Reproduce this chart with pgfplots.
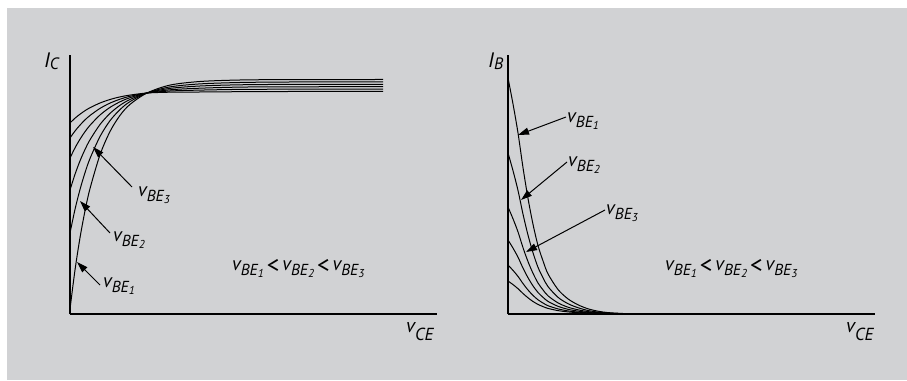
\documentclass[border=0pt]{standalone}
\usepackage{pgfplots}
\pgfplotsset{compat=1.18}
\usepackage{fontspec}
\setmainfont{PT Sans}
\usetikzlibrary{arrows.meta}
\definecolor{bg}{HTML}{D1D2D4}
\newcommand{\vs}[2]{{\fontsize{19.5}{20}\selectfont\itshape v}\raisebox{-5bp}{\fontsize{16}{16}\selectfont\itshape #1\raisebox{-2.5bp}{\fontsize{11.5}{12}\selectfont #2}}}
\newcommand{\vce}{{\fontsize{20}{20}\selectfont\itshape v}\raisebox{-8bp}{\fontsize{17.5}{18}\selectfont\itshape CE}}
\newcommand{\ib}[1]{{\fontsize{21}{20}\selectfont\itshape I}\raisebox{-2bp}{\fontsize{16.5}{16}\selectfont\itshape #1}}
\newcommand{\lt}{\hspace{3bp}\raisebox{-3bp}{\fontsize{25}{25}\selectfont <}\hspace{3bp}}
\newcommand{\rel}{\vs{BE}{1}\lt\vs{BE}{2}\lt\vs{BE}{3}}
\begin{document}
\begin{tikzpicture}[x=1bp,y=1bp]
\fill[white] (0,0) rectangle (907,380);
\fill[bg] (7,0) rectangle (907,372);
\pgfplotsset{myax/.style={scale only axis, width=367bp, height=259bp,
  xmin=0,xmax=367,ymin=0,ymax=259, axis lines=left,
  axis line style={-,line width=1.2bp,black}, ticks=none, clip=false},
  cv/.style={black,solid,line width=1bp,smooth,mark=none}}
\begin{axis}[myax, at={(70bp,66bp)}, anchor=origin]
\addplot[cv] coordinates {(0,5)(5,44.0)(10,76.3)(15,103.1)(20,125.4)(30,159.2)(40,182.5)(50,198.6)(60,209.6)(77,221)(100,228.9)(130,232.5)(170,234.0)(220,234.4)(313,234.5)};
\addplot[cv] coordinates {(0,81)(5,104.6)(10,124.5)(15,141.3)(20,155.5)(30,177.5)(40,193.3)(50,204.4)(60,212.4)(77,221)(100,227.1)(130,230.1)(170,231.5)(220,232.0)(313,232.1)};
\addplot[cv] coordinates {(0,124)(5,139.7)(10,153.1)(15,164.5)(20,174.2)(30,189.5)(40,200.6)(50,208.7)(60,214.5)(77,221)(100,225.6)(130,228.0)(170,229.2)(220,229.6)(313,229.7)};
\addplot[cv] coordinates {(0,156)(5,166.1)(10,174.8)(15,182.3)(20,188.7)(30,199.0)(40,206.6)(50,212.2)(60,216.3)(77,221)(100,224.2)(130,225.8)(170,226.9)(220,227.2)(313,227.3)};
\addplot[cv] coordinates {(0,176)(5,183.0)(10,188.9)(15,194.1)(20,198.5)(30,205.6)(40,210.9)(50,214.8)(60,217.7)(77,221)(100,223.0)(130,223.9)(170,224.6)(220,224.8)(313,224.9)};
\addplot[cv] coordinates {(0,191)(5,195.8)(10,199.8)(15,203.3)(20,206.3)(30,211.0)(40,214.5)(50,217.1)(60,218.9)(77,221)(100,221.8)(130,222.0)(170,222.3)(220,222.5)(313,222.5)};
\end{axis}
\begin{axis}[myax, at={(508bp,66bp)}, anchor=origin]
\addplot[cv] coordinates {(0,236)(5,210.0)(10,181.0)(15,146.3)(20,115.6)(25,89.7)(30,68.4)(35,53.1)(40,40.1)(50,24.5)(60,15.1)(70,9.2)(80,5.2)(90,2.8)(100,1.4)(115,0.5)(130,0)};
\addplot[cv] coordinates {(0,161)(5,143.3)(10,123.5)(15,99.8)(20,78.9)(25,61.2)(30,46.7)(35,36.2)(40,27.4)(50,16.7)(60,10.3)(70,6.3)(80,3.5)(90,1.9)(100,1.0)(115,0.3)(130,0)};
\addplot[cv] coordinates {(0,107)(5,95.2)(10,82.1)(15,66.3)(20,52.4)(25,40.7)(30,31.0)(35,24.1)(40,18.2)(50,11.1)(60,6.8)(70,4.2)(80,2.4)(90,1.3)(100,0.6)(115,0.2)(130,0)};
\addplot[cv] coordinates {(0,74)(5,65.9)(10,56.8)(15,45.9)(20,36.3)(25,28.1)(30,21.5)(35,16.7)(40,12.6)(50,7.7)(60,4.7)(70,2.9)(80,1.6)(90,0.9)(100,0.4)(115,0.1)(130,0)};
\addplot[cv] coordinates {(0,49)(5,43.6)(10,37.6)(15,30.4)(20,24.0)(25,18.6)(30,14.2)(35,11.0)(40,8.3)(50,5.1)(60,3.1)(70,1.9)(80,1.1)(90,0.6)(100,0.3)(115,0.1)(130,0)};
\addplot[cv] coordinates {(0,33)(5,29.4)(10,25.3)(15,20.5)(20,16.2)(25,12.5)(30,9.6)(35,7.4)(40,5.6)(50,3.4)(60,2.1)(70,1.3)(80,0.7)(90,0.4)(100,0.2)(115,0.1)(130,0)};
\end{axis}
% labels
\tikzset{lab/.style={inner sep=0pt, anchor=base west}}
\node[lab] at (44,313) {\ib{C}};
\node[lab] at (488,313) {\ib{B}};
\node[lab] at (406,48) {\vce};
\node[lab] at (846,48) {\vce};
\node[lab] at (232,110) {\rel};
\node[lab] at (665,110) {\rel};
\node[lab] at (138,184) {\vs{BE}{3}};
\node[lab] at (113,139) {\vs{BE}{2}};
\node[lab] at (103,93) {\vs{BE}{1}};
\node[lab] at (567,258) {\vs{BE}{1}};
\node[lab] at (568,214) {\vs{BE}{2}};
\node[lab] at (606,166) {\vs{BE}{3}};
\tikzset{arr/.style={line width=1bp, -{Triangle[length=11bp,width=7bp]}}}
\draw[arr] (132,193) -- (93,233);
\draw[arr] (110,147) -- (80,179);
\draw[arr] (100,95) -- (77,118);
\draw[arr] (566,263) -- (518,245);
\draw[arr] (567,218) -- (521,180);
\draw[arr] (605,170) -- (526,128);
\end{tikzpicture}
\end{document}
